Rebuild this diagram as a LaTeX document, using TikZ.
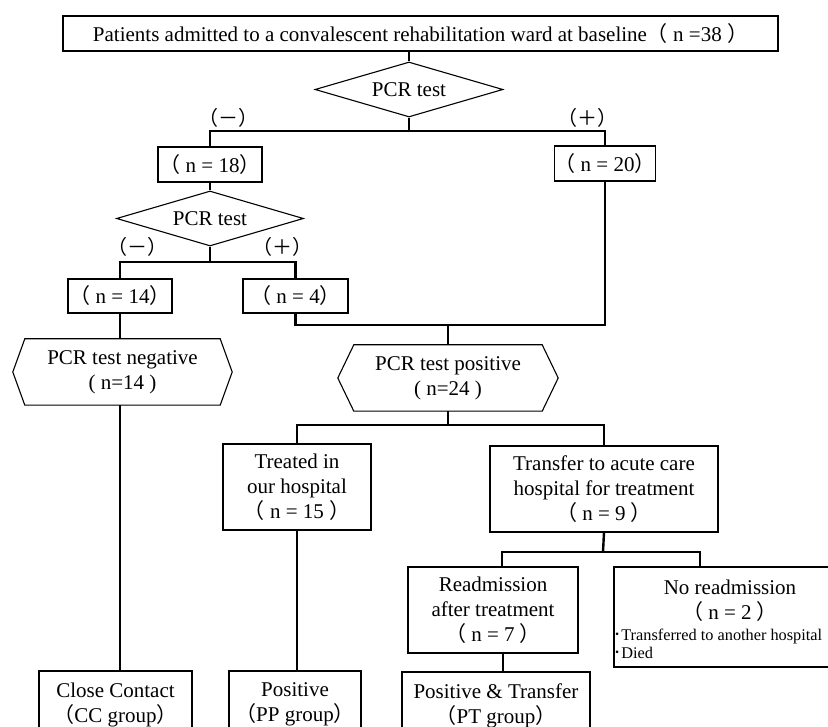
\documentclass[tikz,border=0pt]{standalone}
\usepackage{fontspec}
\setmainfont{Liberation Serif}
\newfontfamily\cjk{Noto Sans CJK JP}
\usetikzlibrary{shapes.geometric}
\newcommand{\lpar}{{\cjk （}}
\newcommand{\rpar}{{\cjk ）}}
\begin{document}
\begin{tikzpicture}[x=1pt,y=-1pt,
  every node/.style={font=\fontsize{21}{25}\selectfont, inner sep=0pt, align=center},
  box/.style={draw, line width=1.1pt, rectangle},
  dia/.style={draw, line width=1.1pt, diamond, aspect=3.4},
  shapeline/.style={line width=1.1pt, line join=miter},
  conn/.style={line width=2.4pt, line join=miter},
  sign/.style={font=\fontsize{20}{24}\selectfont\cjk}]
\clip (0,0) rectangle (828,727);
\fill[white] (0,0) rectangle (828,727);

% nodes
\node[box, minimum width=715pt, minimum height=35pt] (top) at (420.5,33.5)
  {Patients admitted to a convalescent rehabilitation ward at baseline\lpar{} n =38 \rpar};
\node[dia, minimum width=188pt, minimum height=55pt] (d1) at (409,89.5) {PCR test};
\node[sign] (lm1) at (228,118) {（－）};
\node[sign] (lp1) at (587,118) {（＋）};
\node[box, minimum width=104pt, minimum height=35pt] (n18) at (210,164.5) {\lpar{} n = 18\rpar};
\node[box, minimum width=100pt, minimum height=35pt] (n20) at (605,163.5) {\lpar{} n = 20\rpar};
\node[dia, minimum width=187pt, minimum height=55pt] (d2) at (210,218.5) {PCR test};
\node[sign] (lm2) at (137,247) {（－）};
\node[sign] (lp2) at (282,247) {（＋）};
\node[box, minimum width=104pt, minimum height=34pt] (n14) at (120,296) {\lpar{} n = 14\rpar};
\node[box, minimum width=105pt, minimum height=34pt] (n4) at (295.5,296) {\lpar{} n = 4\rpar};

\node[minimum width=195pt, minimum height=66pt] (neg) at (122.5,372) {PCR test negative\\( n=14 )};
\node[minimum width=188pt, minimum height=66pt] (pos) at (448,378) {PCR test positive\\( n=24 )};
\draw[shapeline] (neg.north west) -- (neg.north east) -- ([xshift=12pt]neg.east) -- (neg.south east)
  -- (neg.south west) -- ([xshift=-12pt]neg.west) -- cycle;
\draw[shapeline] (pos.north west) -- (pos.north east) -- ([xshift=16pt]pos.east) -- (pos.south east)
  -- (pos.south west) -- ([xshift=-16pt]pos.west) -- cycle;

\node[box, minimum width=148pt, minimum height=86pt] (treat) at (297,487)
  {Treated in\\our hospital\\\lpar{} n = 15 \rpar};
\node[box, minimum width=228pt, minimum height=86pt] (trans) at (604,489)
  {Transfer to acute care\\hospital for treatment\\\lpar{} n = 9 \rpar};
\node[box, minimum width=170pt, minimum height=86pt] (readm) at (493,610)
  {Readmission\\after treatment\\\lpar{} n = 7 \rpar};
\node[box, minimum width=232pt, minimum height=100pt] (noread) at (730,617) {};
\node (noreadt) at (730,601) {No readmission\\\lpar{} n = 2 \rpar};
\node[anchor=north west, align=left, font=\fontsize{16.3}{17.5}\selectfont] (bul) at (613,629)
  {{\cjk ･}Transferred to another hospital\\{\cjk ･}Died};

\node[box, minimum width=153pt, minimum height=67pt] (cc) at (115.5,704.5) {Close Contact\\\lpar CC group\rpar};
\node[box, minimum width=132pt, minimum height=67pt] (pp) at (295,704.5) {Positive\\\lpar PP group\rpar};
\node[box, minimum width=188pt, minimum height=67pt] (pt) at (496,705.5) {Positive \& Transfer\\\lpar PT group\rpar};

% junctions
\coordinate (j1) at (409,131);
\coordinate (j2) at (210,262);
\coordinate (j3) at (448,325);
\coordinate (j4) at (448,425);
\coordinate (j5) at (603,552);

% connectors
\draw[conn] (top.south -| d1.north) -- (d1.north);
\draw[conn] (d1.south) -- (j1);
\draw[conn] (n18.north) -- (n18.north |- j1) -- (j1 -| n20.north) -- (n20.north);
\draw[conn] (n18.south) -- (d2.north);
\draw[conn] (d2.south) -- (j2);
\draw[conn] (n14.north) -- (n14.north |- j2) -- (j2 -| n4.north) -- (n4.north);
\draw[conn] (n4.south) -- (n4.south |- j3) -- (j3 -| n20.south) -- (n20.south);
\draw[conn] (j3) -- (pos.north);
\draw[conn] (n14.south) -- (n14.south |- neg.north);
\draw[conn] (n14.south |- neg.south) -- (n14.south |- cc.north);
\draw[conn] (pos.south) -- (j4);
\draw[conn] (treat.north) -- (treat.north |- j4) -- (j4 -| trans.north) -- (trans.north);
\draw[conn] (treat.south) -- (treat.south |- pp.north);
\draw[conn] (trans.south) -- (j5);
\draw[conn] ([xshift=9pt]readm.north) |- (j5) -| ([xshift=-30pt]noread.north);
\draw[conn] ([xshift=10pt]readm.south) -- ([xshift=10pt]readm.south |- pt.north);
\end{tikzpicture}
\end{document}
